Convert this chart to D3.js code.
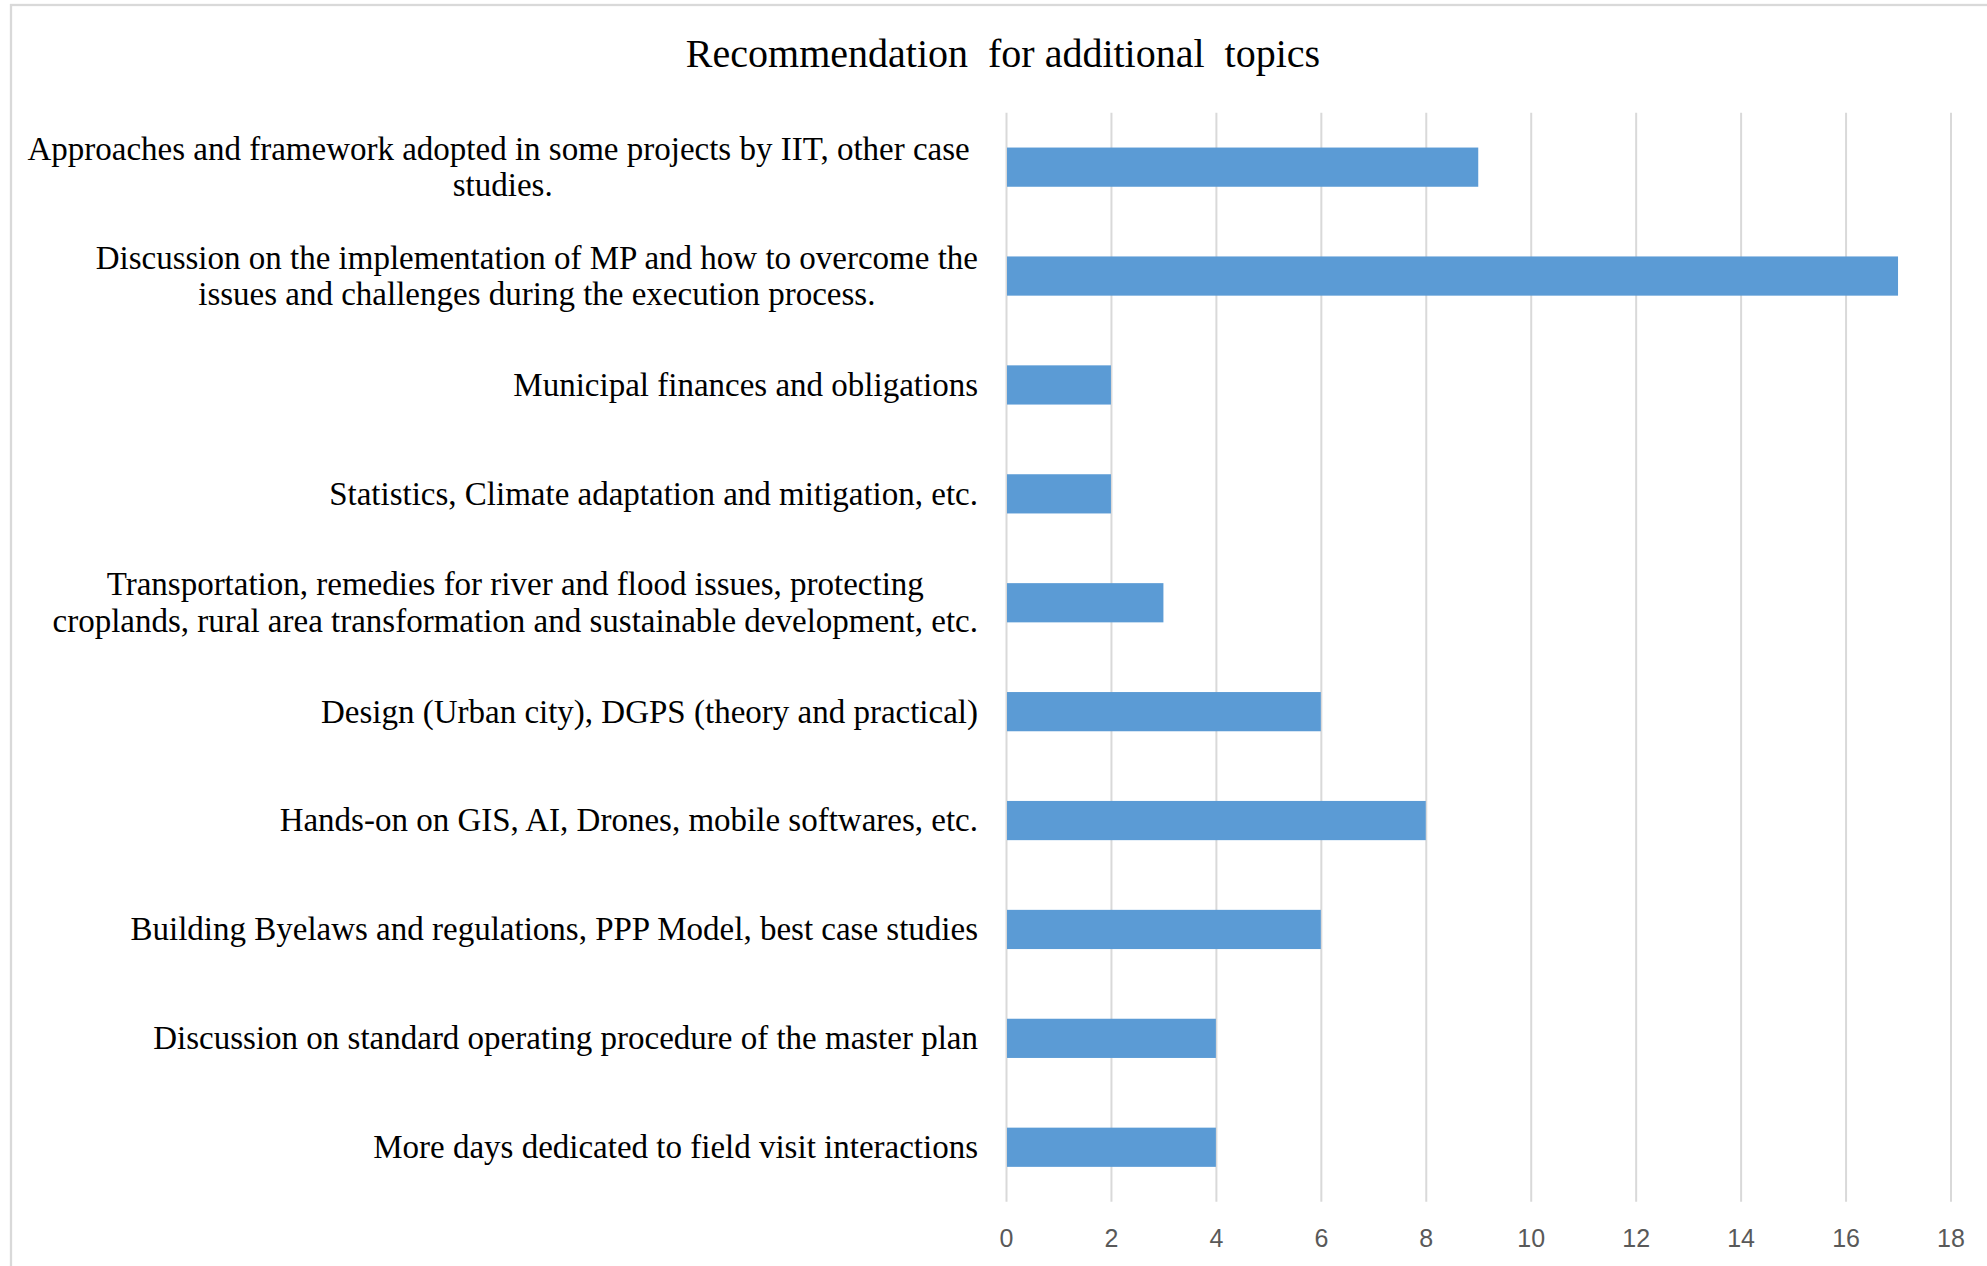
<html>
  <head>
    <script src="https://cdn.jsdelivr.net/npm/d3@7"></script>
    <style>
  body {
    background-color: #ffffff;
    margin: 0;
    padding: 0;
  }
    </style>
  </head>
  <body>
    <div id="chart"></div>
    <script>

const title = "Recommendation  for additional  topics";

// category labels, "\n" marks where the label wraps
const topics = [
  "Approaches and framework adopted in some projects by IIT, other case \nstudies.",
  "Discussion on the implementation of MP and how to overcome the\nissues and challenges during the execution process.",
  "Municipal finances and obligations",
  "Statistics, Climate adaptation and mitigation, etc.",
  "Transportation, remedies for river and flood issues, protecting\ncroplands, rural area transformation and sustainable development, etc.",
  "Design (Urban city), DGPS (theory and practical)",
  "Hands-on on GIS, AI, Drones, mobile softwares, etc.",
  "Building Byelaws and regulations, PPP Model, best case studies",
  "Discussion on standard operating procedure of the master plan",
  "More days dedicated to field visit interactions"
];

const counts = [9, 17, 2, 2, 3, 6, 8, 6, 4, 4];

const tickValues = [0, 2, 4, 6, 8, 10, 12, 14, 16, 18];

const width = 1987;
const height = 1266;
const plot = { left: 1006, right: 1950.5, top: 112.7, bottom: 1201.7 };

const svg = d3
  .select("#chart")
  .append("svg")
  .attr("width", width)
  .attr("height", height);

// outer chart frame (runs off the right and bottom edge)
svg.append("rect")
  .attr("x", 11)
  .attr("y", 5)
  .attr("width", width + 20)
  .attr("height", height + 20)
  .attr("fill", "#ffffff")
  .attr("stroke", "#d9d9d9")
  .attr("stroke-width", 2.3);

svg.append("text")
  .attr("x", 1003)
  .attr("y", 66.7)
  .attr("text-anchor", "middle")
  .attr("xml:space", "preserve")
  .style("white-space", "pre")
  .style("font-family", "'Liberation Serif', 'Times New Roman', serif")
  .style("font-size", "40px")
  .style("fill", "#000000")
  .text(title);

const xScale = d3.scaleLinear().domain([0, 18]).range([plot.left, plot.right]);
const yScale = d3
  .scaleBand()
  .domain(d3.range(topics.length))
  .range([plot.top, plot.bottom])
  .paddingInner(0.64)
  .paddingOuter(0.32);

// vertical gridlines + tick labels
const xAxis = svg.append("g")
  .attr("transform", `translate(0, ${plot.bottom})`)
  .call(
    d3.axisBottom(xScale)
      .tickValues(tickValues)
      .tickSize(-(plot.bottom - plot.top))
      .tickFormat(d3.format("d"))
  );

xAxis.select(".domain").remove();
xAxis.selectAll(".tick line")
  .attr("stroke", "#d9d9d9")
  .attr("stroke-width", 2);
xAxis.selectAll(".tick text")
  .attr("y", 45)
  .attr("dy", 0)
  .style("font-family", "'Liberation Sans', Arial, sans-serif")
  .style("font-size", "25px")
  .style("fill", "#595959");

// bars
svg.selectAll(".bar")
  .data(counts)
  .enter()
  .append("rect")
  .attr("class", "bar")
  .attr("x", xScale(0) + 1)
  .attr("y", (d, i) => yScale(i))
  .attr("width", d => xScale(d) - xScale(0) - 1)
  .attr("height", yScale.bandwidth())
  .attr("fill", "#5b9bd5");

// category labels: block right-aligned, wrapped lines centred in the block
const labelRight = 978;
const lineHeight = 36.7;

topics.forEach((label, i) => {
  const lines = label.split("\n");
  const cy = yScale(i) + yScale.bandwidth() / 2;
  const g = svg.append("g");
  const texts = lines.map((line, j) =>
    g.append("text")
      .attr("xml:space", "preserve")
      .style("white-space", "pre")
      .style("font-family", "'Liberation Serif', 'Times New Roman', serif")
      .style("font-size", "33px")
      .style("fill", "#000000")
      .attr("text-anchor", "middle")
      .attr("y", cy + (j - (lines.length - 1) / 2) * lineHeight)
      .attr("dy", "0.33em")
      .text(line)
  );
  const blockWidth = d3.max(texts, t => t.node().getComputedTextLength());
  texts.forEach(t => t.attr("x", labelRight - blockWidth / 2));
});

</script>
  </body>
</html>
